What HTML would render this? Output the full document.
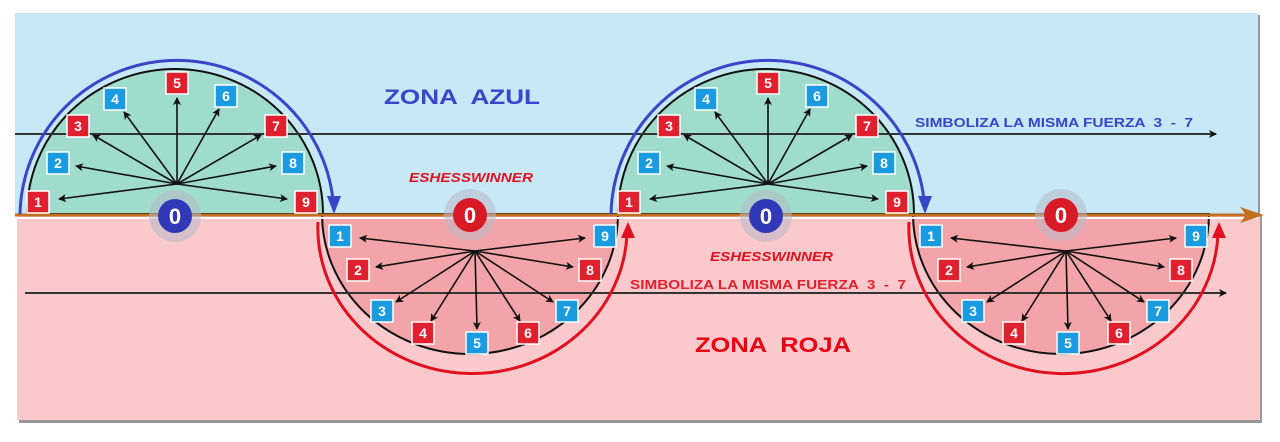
<!DOCTYPE html>
<html><head><meta charset="utf-8"><style>
html,body{margin:0;padding:0;background:#fff;}
svg{display:block;font-family:"Liberation Sans",Arial,sans-serif;}
.b text{font-weight:bold;font-size:14px;fill:#fff;text-anchor:middle;}
</style></head><body>
<svg width="1280" height="442" viewBox="0 0 1280 442" xmlns="http://www.w3.org/2000/svg">
<defs>
<marker id="ah" markerWidth="8" markerHeight="8" refX="7" refY="4" orient="auto" markerUnits="userSpaceOnUse"><path d="M0,0 L8,4 L0,8 L2,4 Z" fill="#111"/></marker>
</defs>
<rect x="17" y="15" width="1243" height="201" fill="#999"/>
<rect x="15" y="13" width="1243" height="201" fill="#c6e8f7"/>
<rect x="19" y="216" width="1243" height="207" fill="#999"/>
<rect x="17" y="214" width="1243" height="206" fill="#f9c9cc"/>

<g transform="translate(175,214)"><path d="M-148,0 A148,145 0 0 1 148,0 Z" fill="#a0dccb" stroke="#111" stroke-width="2"/></g>
<g transform="translate(766,214)"><path d="M-148,0 A148,145 0 0 1 148,0 Z" fill="#a0dccb" stroke="#111" stroke-width="2"/></g>
<g transform="translate(470,214)"><path d="M-148,0 A148,140 0 0 0 148,0 Z" fill="#f3a4a9" stroke="#111" stroke-width="2"/></g>
<g transform="translate(1061,214)"><path d="M-148,0 A148,140 0 0 0 148,0 Z" fill="#f3a4a9" stroke="#111" stroke-width="2"/></g>

<line x1="15" y1="134" x2="1216" y2="134" stroke="#333" stroke-width="2" marker-end="url(#ah)"/>
<line x1="25" y1="293" x2="1226" y2="293" stroke="#333" stroke-width="2" marker-end="url(#ah)"/>
<line x1="15" y1="218" x2="1258" y2="218" stroke="#fff" stroke-width="2"/>
<line x1="15" y1="215" x2="1250" y2="215" stroke="#c0701f" stroke-width="3"/>
<path d="M1240,207 L1264,215 L1240,223 L1246,215 Z" fill="#c0701f"/>

<g fill="none" stroke="#3a45c8" stroke-width="3">
<path d="M20,214 A157,157 0 0 1 333,200"/>
<path d="M611,214 A157,157 0 0 1 924,200"/>
</g>
<path d="M327,196 L341,196 L334,214 Z" fill="#3a45c8"/>
<path d="M918,196 L932,196 L925,214 Z" fill="#3a45c8"/>
<g fill="none" stroke="#e0101e" stroke-width="3">
<path d="M318,222 A154,145 0 0 0 627,234"/>
<path d="M909,222 A154,145 0 0 0 1218,234"/>
</g>
<path d="M621,238 L635,238 L628,222 Z" fill="#e0101e"/>
<path d="M1212,238 L1226,238 L1219,222 Z" fill="#e0101e"/>

<g transform="translate(175,214)" stroke="#111" stroke-width="1.6">
<line x1="2" y1="-30" x2="-116" y2="-15" marker-end="url(#ah)"/>
<line x1="2" y1="-30" x2="-99" y2="-48" marker-end="url(#ah)"/>
<line x1="2" y1="-30" x2="-82" y2="-79" marker-end="url(#ah)"/>
<line x1="2" y1="-30" x2="-51" y2="-102" marker-end="url(#ah)"/>
<line x1="2" y1="-30" x2="2" y2="-116" marker-end="url(#ah)"/>
<line x1="2" y1="-30" x2="44" y2="-105" marker-end="url(#ah)"/>
<line x1="2" y1="-30" x2="86" y2="-79" marker-end="url(#ah)"/>
<line x1="2" y1="-30" x2="101" y2="-48" marker-end="url(#ah)"/>
<line x1="2" y1="-30" x2="112" y2="-15" marker-end="url(#ah)"/>
</g>
<g transform="translate(766,214)" stroke="#111" stroke-width="1.6">
<line x1="2" y1="-30" x2="-116" y2="-15" marker-end="url(#ah)"/>
<line x1="2" y1="-30" x2="-99" y2="-48" marker-end="url(#ah)"/>
<line x1="2" y1="-30" x2="-82" y2="-79" marker-end="url(#ah)"/>
<line x1="2" y1="-30" x2="-51" y2="-102" marker-end="url(#ah)"/>
<line x1="2" y1="-30" x2="2" y2="-116" marker-end="url(#ah)"/>
<line x1="2" y1="-30" x2="44" y2="-105" marker-end="url(#ah)"/>
<line x1="2" y1="-30" x2="86" y2="-79" marker-end="url(#ah)"/>
<line x1="2" y1="-30" x2="101" y2="-48" marker-end="url(#ah)"/>
<line x1="2" y1="-30" x2="112" y2="-15" marker-end="url(#ah)"/>
</g>
<g transform="translate(470,214)" stroke="#111" stroke-width="1.6">
<line x1="5" y1="37" x2="-110" y2="24" marker-end="url(#ah)"/>
<line x1="5" y1="37" x2="-94" y2="53" marker-end="url(#ah)"/>
<line x1="5" y1="37" x2="-74" y2="88" marker-end="url(#ah)"/>
<line x1="5" y1="37" x2="-39" y2="107" marker-end="url(#ah)"/>
<line x1="5" y1="37" x2="7" y2="115" marker-end="url(#ah)"/>
<line x1="5" y1="37" x2="50" y2="107" marker-end="url(#ah)"/>
<line x1="5" y1="37" x2="83" y2="88" marker-end="url(#ah)"/>
<line x1="5" y1="37" x2="103" y2="53" marker-end="url(#ah)"/>
<line x1="5" y1="37" x2="115" y2="24" marker-end="url(#ah)"/>
</g>
<g transform="translate(1061,214)" stroke="#111" stroke-width="1.6">
<line x1="5" y1="37" x2="-110" y2="24" marker-end="url(#ah)"/>
<line x1="5" y1="37" x2="-94" y2="53" marker-end="url(#ah)"/>
<line x1="5" y1="37" x2="-74" y2="88" marker-end="url(#ah)"/>
<line x1="5" y1="37" x2="-39" y2="107" marker-end="url(#ah)"/>
<line x1="5" y1="37" x2="7" y2="115" marker-end="url(#ah)"/>
<line x1="5" y1="37" x2="50" y2="107" marker-end="url(#ah)"/>
<line x1="5" y1="37" x2="83" y2="88" marker-end="url(#ah)"/>
<line x1="5" y1="37" x2="103" y2="53" marker-end="url(#ah)"/>
<line x1="5" y1="37" x2="115" y2="24" marker-end="url(#ah)"/>
</g>

<g class="b" transform="translate(175,214)" stroke="#fff" stroke-width="1.5">
<rect x="-148" y="-23" width="22" height="22" fill="#e0202e"/><text x="-137" y="-7" stroke="none">1</text>
<rect x="-128" y="-62" width="22" height="22" fill="#1a9be0"/><text x="-117" y="-46" stroke="none">2</text>
<rect x="-108" y="-99" width="22" height="22" fill="#e0202e"/><text x="-97" y="-83" stroke="none">3</text>
<rect x="-71" y="-126" width="22" height="22" fill="#1a9be0"/><text x="-60" y="-110" stroke="none">4</text>
<rect x="-9" y="-142" width="22" height="22" fill="#e0202e"/><text x="2" y="-126" stroke="none">5</text>
<rect x="40" y="-129" width="22" height="22" fill="#1a9be0"/><text x="51" y="-113" stroke="none">6</text>
<rect x="90" y="-99" width="22" height="22" fill="#e0202e"/><text x="101" y="-83" stroke="none">7</text>
<rect x="107" y="-62" width="22" height="22" fill="#1a9be0"/><text x="118" y="-46" stroke="none">8</text>
<rect x="120" y="-23" width="22" height="22" fill="#e0202e"/><text x="131" y="-7" stroke="none">9</text>
</g>
<g class="b" transform="translate(766,214)" stroke="#fff" stroke-width="1.5">
<rect x="-148" y="-23" width="22" height="22" fill="#e0202e"/><text x="-137" y="-7" stroke="none">1</text>
<rect x="-128" y="-62" width="22" height="22" fill="#1a9be0"/><text x="-117" y="-46" stroke="none">2</text>
<rect x="-108" y="-99" width="22" height="22" fill="#e0202e"/><text x="-97" y="-83" stroke="none">3</text>
<rect x="-71" y="-126" width="22" height="22" fill="#1a9be0"/><text x="-60" y="-110" stroke="none">4</text>
<rect x="-9" y="-142" width="22" height="22" fill="#e0202e"/><text x="2" y="-126" stroke="none">5</text>
<rect x="40" y="-129" width="22" height="22" fill="#1a9be0"/><text x="51" y="-113" stroke="none">6</text>
<rect x="90" y="-99" width="22" height="22" fill="#e0202e"/><text x="101" y="-83" stroke="none">7</text>
<rect x="107" y="-62" width="22" height="22" fill="#1a9be0"/><text x="118" y="-46" stroke="none">8</text>
<rect x="120" y="-23" width="22" height="22" fill="#e0202e"/><text x="131" y="-7" stroke="none">9</text>
</g>
<g class="b" transform="translate(470,214)" stroke="#fff" stroke-width="1.5">
<rect x="-141" y="11" width="22" height="22" fill="#1a9be0"/><text x="-130" y="27" stroke="none">1</text>
<rect x="-123" y="45" width="22" height="22" fill="#e0202e"/><text x="-112" y="61" stroke="none">2</text>
<rect x="-99" y="86" width="22" height="22" fill="#1a9be0"/><text x="-88" y="102" stroke="none">3</text>
<rect x="-58" y="108" width="22" height="22" fill="#e0202e"/><text x="-47" y="124" stroke="none">4</text>
<rect x="-4" y="118" width="22" height="22" fill="#1a9be0"/><text x="7" y="134" stroke="none">5</text>
<rect x="47" y="108" width="22" height="22" fill="#e0202e"/><text x="58" y="124" stroke="none">6</text>
<rect x="86" y="86" width="22" height="22" fill="#1a9be0"/><text x="97" y="102" stroke="none">7</text>
<rect x="109" y="45" width="22" height="22" fill="#e0202e"/><text x="120" y="61" stroke="none">8</text>
<rect x="124" y="11" width="22" height="22" fill="#1a9be0"/><text x="135" y="27" stroke="none">9</text>
</g>
<g class="b" transform="translate(1061,214)" stroke="#fff" stroke-width="1.5">
<rect x="-141" y="11" width="22" height="22" fill="#1a9be0"/><text x="-130" y="27" stroke="none">1</text>
<rect x="-123" y="45" width="22" height="22" fill="#e0202e"/><text x="-112" y="61" stroke="none">2</text>
<rect x="-99" y="86" width="22" height="22" fill="#1a9be0"/><text x="-88" y="102" stroke="none">3</text>
<rect x="-58" y="108" width="22" height="22" fill="#e0202e"/><text x="-47" y="124" stroke="none">4</text>
<rect x="-4" y="118" width="22" height="22" fill="#1a9be0"/><text x="7" y="134" stroke="none">5</text>
<rect x="47" y="108" width="22" height="22" fill="#e0202e"/><text x="58" y="124" stroke="none">6</text>
<rect x="86" y="86" width="22" height="22" fill="#1a9be0"/><text x="97" y="102" stroke="none">7</text>
<rect x="109" y="45" width="22" height="22" fill="#e0202e"/><text x="120" y="61" stroke="none">8</text>
<rect x="124" y="11" width="22" height="22" fill="#1a9be0"/><text x="135" y="27" stroke="none">9</text>
</g>

<g font-weight="bold" font-size="22" text-anchor="middle">
<circle cx="175" cy="216" r="26" fill="#b8b8c8" opacity="0.55"/>
<circle cx="175" cy="216" r="17" fill="#3038b8"/>
<text x="175" y="224" fill="#fff">0</text>
<circle cx="470" cy="215" r="26" fill="#b8b8c8" opacity="0.55"/>
<circle cx="470" cy="215" r="17" fill="#d81a26"/>
<text x="470" y="223" fill="#fff">0</text>
<circle cx="766" cy="216" r="26" fill="#b8b8c8" opacity="0.55"/>
<circle cx="766" cy="216" r="17" fill="#3038b8"/>
<text x="766" y="224" fill="#fff">0</text>
<circle cx="1061" cy="215" r="26" fill="#b8b8c8" opacity="0.55"/>
<circle cx="1061" cy="215" r="17" fill="#d81a26"/>
<text x="1061" y="223" fill="#fff">0</text>
</g>

<text x="384" y="104" font-size="21" font-weight="bold" fill="#3a45c8" textLength="156" lengthAdjust="spacingAndGlyphs" xml:space="preserve">ZONA  AZUL</text>
<text x="915" y="127" font-size="13" font-weight="bold" fill="#3a45c8" textLength="278" lengthAdjust="spacingAndGlyphs" xml:space="preserve">SIMBOLIZA LA MISMA FUERZA  3  -  7</text>
<text x="409" y="182" font-size="12.5" font-weight="bold" font-style="italic" fill="#e0101e" textLength="124" lengthAdjust="spacingAndGlyphs">ESHESSWINNER</text>
<text x="710" y="261" font-size="12.5" font-weight="bold" font-style="italic" fill="#e0101e" textLength="123" lengthAdjust="spacingAndGlyphs">ESHESSWINNER</text>
<text x="630" y="289" font-size="13" font-weight="bold" fill="#e0202e" textLength="276" lengthAdjust="spacingAndGlyphs" xml:space="preserve">SIMBOLIZA LA MISMA FUERZA  3  -  7</text>
<text x="695" y="352" font-size="21" font-weight="bold" fill="#e80010" textLength="156" lengthAdjust="spacingAndGlyphs" xml:space="preserve">ZONA  ROJA</text>
</svg>
</body></html>
